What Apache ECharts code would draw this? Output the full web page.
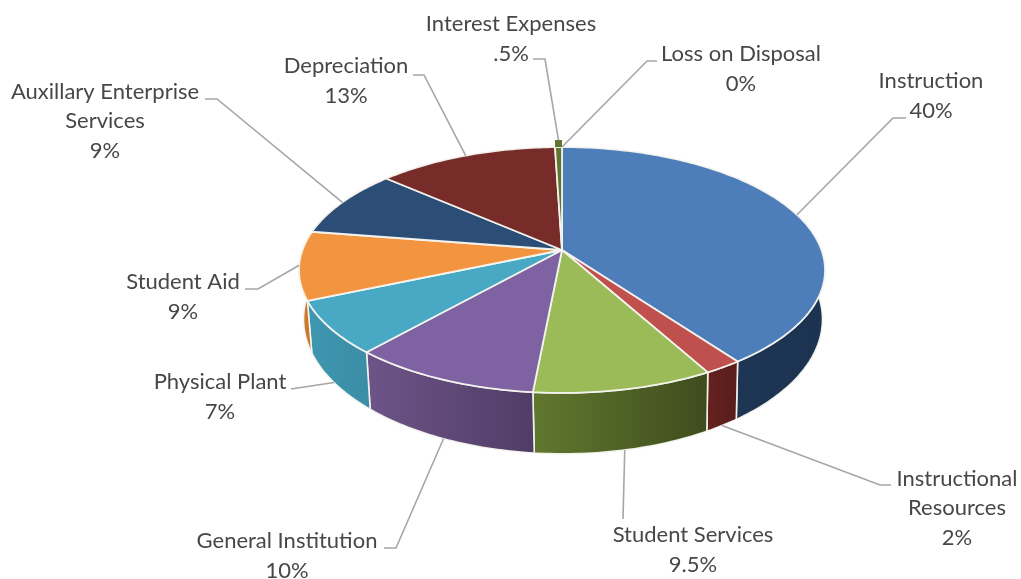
<!DOCTYPE html>
<html><head><meta charset="utf-8">
<style>html,body{margin:0;padding:0;background:#fff}#c{width:1021px;height:579px}</style>
<script src="https://cdn.jsdelivr.net/npm/echarts@6/dist/echarts.min.js"></script>
</head><body><div id="c"></div>
<script>
const categories = ['Instruction','Instructional Resources','Student Services','General Institution','Physical Plant','Student Aid','Auxillary Enterprise Services','Depreciation','Interest Expenses','Loss on Disposal'];
const values = [40,2,9.5,10,7,9,9,13,0.5,0];
const valueText = ['40%','2%','9.5%','10%','7%','9%','9%','13%','.5%','0%'];
const labelLines = [['Instruction'],['Instructional','Resources'],['Student Services'],['General Institution'],['Physical Plant'],['Student Aid'],['Auxillary Enterprise','Services'],['Depreciation'],['Interest Expenses'],['Loss on Disposal']];
const topColors = ['#4d7eb9','#c0504d','#9bbb59','#7e62a1','#49a9c4','#f39441','#2c4d75','#772c2a','#5f7530','#4d3b62'];
const wallColors = [['#1e3653','#1b3350'],['#65211f','#581d1b'],['#61782f','#3e4c1d'],['#6e5488','#4f3d66'],['#3f97b0','#3a8da5'],['#cf7c30','#c87529'],['#2c4d75','#2c4d75'],['#772c2a','#772c2a'],['#5f7530','#5f7530'],['#4d3b62','#4d3b62']];
// label layout: text centre, leader knee, leader end, which rim the leader starts from
const labelLayout = [
 {c:[931,96], k:[893,118],e:[906,118],rim:'top'},
 {c:[957,508],k:[880,485],e:[891,485],rim:'bottom'},
 {c:[693,550],k:[623,519],e:[623,519],rim:'bottom'},
 {c:[287,556],k:[396,548],e:[384,548],rim:'bottom'},
 {c:[220,397],k:[291,389],e:[291,389],rim:'bottom'},
 {c:[183,297],k:[258,289],e:[245,289],rim:'top'},
 {c:[105,121],k:[217,99], e:[205,99], rim:'top'},
 {c:[346,81], k:[424,75], e:[413,75], rim:'top'},
 {c:[511,39], k:[545,59], e:[533,59], rim:'raised'},
 {c:[741,69], k:[647,61], e:[657,61], rim:'top'}
];
const P = {cx:562,cy:250,A:259.5,B:119.7,k:0.1626,cxB:563,cyB:297.4,AB:256,BB:131,raise:7};
function rim(theta,type){
  const t=theta*Math.PI/180,u=Math.sin(t),v=-Math.cos(t),d=1-P.k*v;
  if(type==='bottom') return [P.cxB+P.AB*u/d,P.cyB+P.BB*v/d];
  const p=[P.cx+P.A*u/d,P.cy+P.B*v/d];
  if(type==='raised') p[1]-=P.raise;
  return p;
}
const total=values.reduce((a,b)=>a+b,0);
const spans=[];let acc=0;
values.forEach(v=>{spans.push([acc/total*360,(acc+v)/total*360]);acc+=v;});
function arc(a,b,type){const n=Math.max(2,Math.ceil(Math.abs(b-a)));const o=[];for(let i=0;i<=n;i++)o.push(rim(a+(b-a)*i/n,type));return o;}
const stroke='rgba(245,245,240,0.95)';
function renderWall(params,api){
  const i=params.dataIndex;
  const a=Math.max(spans[i][0],82),b=Math.min(spans[i][1],278);
  if(values[i]===0||b<=a) return {type:'group',children:[]};
  const pts=arc(a,b,'top').concat(arc(b,a,'bottom'));
  return {type:'polygon',shape:{points:pts},style:{
    fill:new echarts.graphic.LinearGradient(0,0,1,0,[{offset:0,color:wallColors[i][0]},{offset:1,color:wallColors[i][1]}]),
    stroke:stroke,lineWidth:1.6,lineJoin:'round'}};
}
function renderTop(params,api){
  const i=params.dataIndex;
  if(values[i]===0) return {type:'group',children:[]};
  const [a,b]=spans[i];
  const pts=[[P.cx,P.cy]].concat(arc(a,b,'top'));
  const ch=[{type:'polygon',shape:{points:pts},style:{fill:topColors[i],stroke:stroke,lineWidth:1.8,lineJoin:'round'}}];
  if(categories[i]==='Interest Expenses'){
    ch.push({type:'polygon',shape:{points:[rim(a,'raised'),rim(b,'raised'),rim(b,'top'),rim(a,'top')]},style:{fill:topColors[i]}});
  }
  return {type:'group',children:ch};
}
function renderLabel(params,api){
  const i=params.dataIndex,L=labelLayout[i];
  const mid=(spans[i][0]+spans[i][1])/2;
  const s=rim(mid,L.rim);
  return {type:'group',children:[
    {type:'polyline',shape:{points:[s,L.k,L.e]},style:{fill:null,stroke:'#a6a6a6',lineWidth:1.6}},
    {type:'text',style:{x:L.c[0],y:L.c[1],text:labelLines[i].concat([valueText[i]]).join('\n'),align:'center',verticalAlign:'middle',
      font:'22px Lato',lineHeight:29.5,fill:'#474747'}}
  ]};
}
const seriesData=values.map((v,i)=>({name:categories[i],value:v}));
const chart=echarts.init(document.getElementById('c'),null,{renderer:'canvas'});
chart.setOption({animation:false,backgroundColor:'#fff',tooltip:{show:false},
 series:[
  {type:'custom',coordinateSystem:'none',renderItem:renderWall,data:seriesData,z:1,silent:true},
  {type:'custom',coordinateSystem:'none',renderItem:renderTop,data:seriesData,z:2,silent:true},
  {type:'custom',coordinateSystem:'none',renderItem:renderLabel,data:seriesData,z:3,silent:true}
 ]});
</script></body></html>
